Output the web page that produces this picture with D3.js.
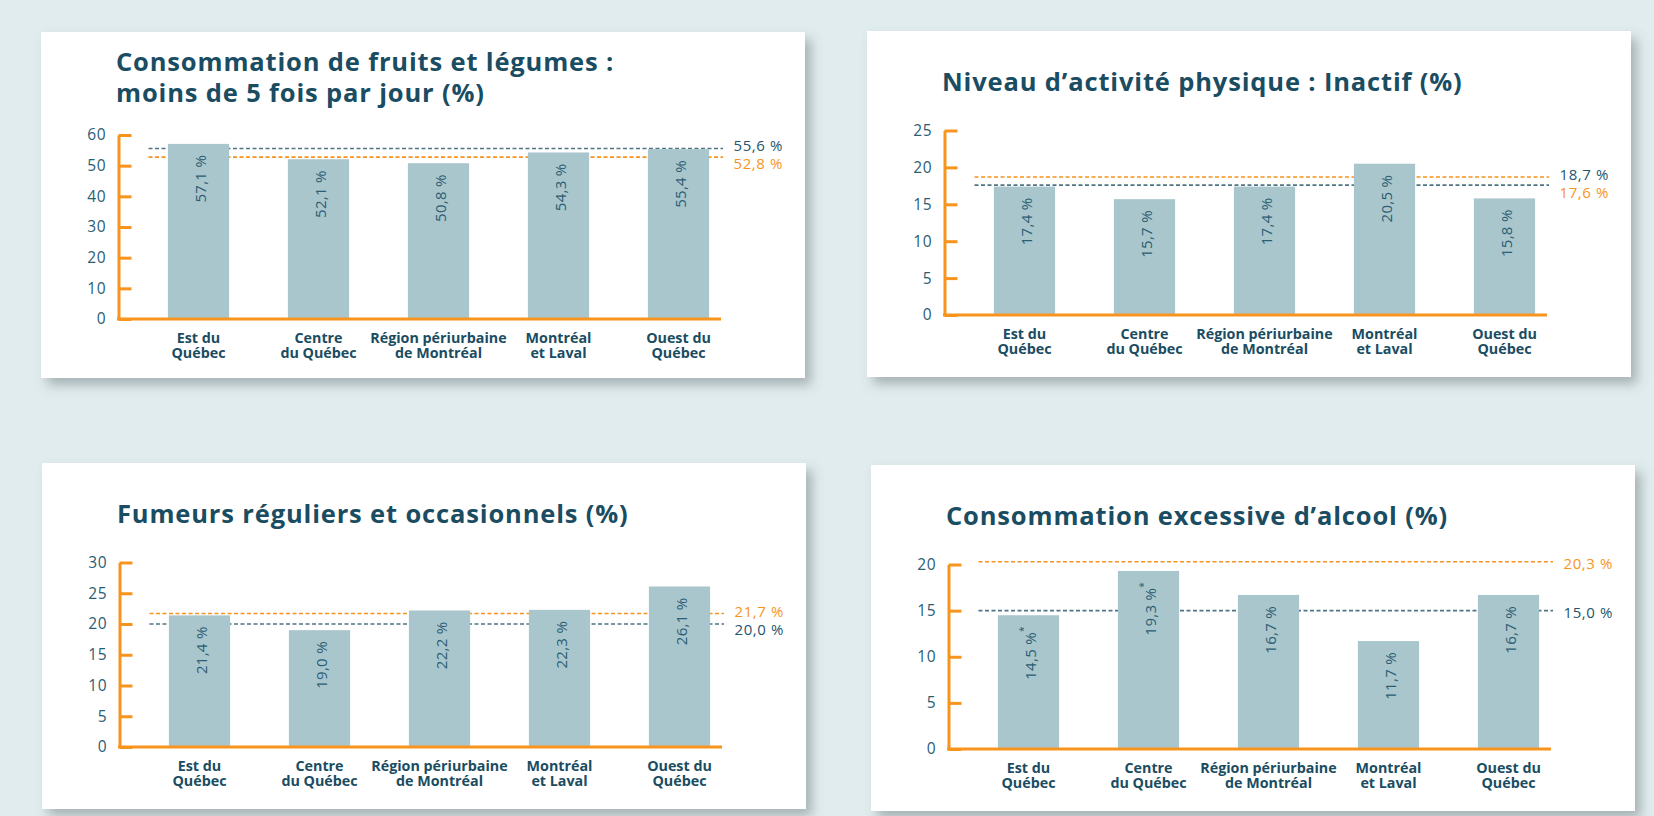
<!DOCTYPE html>
<html>
<head>
<meta charset="utf-8">
<script src="https://cdn.jsdelivr.net/npm/d3@7"></script>
<style>
  html, body { margin: 0; padding: 0; background: #e1ecee; }
  svg { display: block; }
</style>
</head>
<body>
<svg id="chart" width="1654" height="816"></svg>
<script>
// ---------- DATA ----------
const categories = [
  ["Est du", "Québec"],
  ["Centre", "du Québec"],
  ["Région périurbaine", "de Montréal"],
  ["Montréal", "et Laval"],
  ["Ouest du", "Québec"]
];

const fruitsTitle = ["Consommation de fruits et légumes :", "moins de 5 fois par jour (%)"];
const fruitsValues = [57.1, 52.1, 50.8, 54.3, 55.4];
const fruitsTicks = [0, 10, 20, 30, 40, 50, 60];
const fruitsRefs = [55.6, 52.8];

const activiteTitle = ["Niveau d’activité physique : Inactif (%)"];
const activiteValues = [17.4, 15.7, 17.4, 20.5, 15.8];
const activiteTicks = [0, 5, 10, 15, 20, 25];
const activiteRefs = [18.7, 17.6];

const fumeursTitle = ["Fumeurs réguliers et occasionnels (%)"];
const fumeursValues = [21.4, 19.0, 22.2, 22.3, 26.1];
const fumeursTicks = [0, 5, 10, 15, 20, 25, 30];
const fumeursRefs = [21.7, 20.0];

const alcoolTitle = ["Consommation excessive d’alcool (%)"];
const alcoolValues = [14.5, 19.3, 16.7, 11.7, 16.7];
const alcoolStars = [true, true, false, false, false];
const alcoolTicks = [0, 5, 10, 15, 20];
const alcoolRefs = [20.3, 15.0];

// ---------- STYLE / LAYOUT ----------
const C = {
  orange: "#f7941d",
  dark: "#24556b",
  darkLine: "#4f7484",
  bar: "#aac6cd",
  title: "#1a4c62",
  text: "#2b5d73"
};
const FONT_BOLD = "'Open Sans', sans-serif";
const FONT_LIGHT = "'Open Sans', sans-serif";

const panels = [
  { x: 41,  y: 32,  title: fruitsTitle,   values: fruitsValues,   ticks: fruitsTicks,   refs: fruitsRefs,
    refLine: [C.darkLine, C.orange], refText: [C.dark, C.orange], top: 103, bottom: 287, titleY: [39, 70], stars: null },
  { x: 867, y: 31,  title: activiteTitle, values: activiteValues, ticks: activiteTicks, refs: activiteRefs,
    refLine: [C.orange, C.darkLine], refText: [C.dark, C.orange], top: 99.5, bottom: 284, titleY: [60], stars: null },
  { x: 42,  y: 463, title: fumeursTitle,  values: fumeursValues,  ticks: fumeursTicks,  refs: fumeursRefs,
    refLine: [C.orange, C.darkLine], refText: [C.orange, C.dark], top: 99.5, bottom: 284, titleY: [59.5], stars: null },
  { x: 871, y: 465, title: alcoolTitle,   values: alcoolValues,   ticks: alcoolTicks,   refs: alcoolRefs,
    refLine: [C.orange, C.darkLine], refText: [C.orange, C.dark], top: 99.5, bottom: 284, titleY: [59.5], stars: alcoolStars }
];

const CARD_W = 764, CARD_H = 346;
const AXIS_X = 77.5, AXIS_END = 680;

const svg = d3.select("#chart");
const defs = svg.append("defs");
const f = defs.append("filter").attr("id", "shadow")
  .attr("x", "-5%").attr("y", "-5%").attr("width", "115%").attr("height", "120%");
f.append("feDropShadow").attr("dx", 6).attr("dy", 7).attr("stdDeviation", 6)
  .attr("flood-color", "#5f6b70").attr("flood-opacity", 0.45);

const fmt = v => v.toFixed(1).replace(".", ",");

panels.forEach(p => {
  const g = svg.append("g").attr("transform", `translate(${p.x},${p.y})`);
  g.append("rect").attr("width", CARD_W).attr("height", CARD_H)
    .attr("fill", "#fff").attr("filter", "url(#shadow)");

  // Title
  g.append("g").selectAll("text").data(p.title).join("text")
    .attr("x", 75).attr("y", (d, i) => p.titleY[i])
    .attr("font-family", FONT_BOLD).attr("font-weight", 700)
    .attr("font-size", 25.5).attr("letter-spacing", 0.85).attr("fill", C.title)
    .text(d => d);

  const maxV = p.ticks[p.ticks.length - 1];
  const y = d3.scaleLinear().domain([0, maxV]).range([p.bottom, p.top]);
  const x = d3.scaleBand().domain(d3.range(categories.length))
    .range([AXIS_X + 20, AXIS_X + 620]).paddingInner(0.49).paddingOuter(0.245);

  // Reference lines (behind bars)
  g.append("g").selectAll("line").data(p.refs).join("line")
    .attr("x1", AXIS_X + 30).attr("x2", AXIS_END + 2)
    .attr("y1", d => y(d)).attr("y2", d => y(d))
    .attr("stroke", (d, i) => p.refLine[i]).attr("stroke-width", 1.6)
    .attr("stroke-dasharray", "4,2.5");

  // Bars
  g.append("g").selectAll("rect").data(p.values).join("rect")
    .attr("x", (d, i) => x(i)).attr("width", x.bandwidth())
    .attr("y", d => y(d)).attr("height", d => y(0) - y(d))
    .attr("fill", C.bar);

  // Reference labels (spread apart when close)
  const ly = p.refs.map(d => y(d));
  const minSep = 18;
  if (Math.abs(ly[0] - ly[1]) < minSep) {
    const mid = (ly[0] + ly[1]) / 2;
    const s = ly[0] <= ly[1] ? -1 : 1;
    ly[0] = mid + s * minSep / 2;
    ly[1] = mid - s * minSep / 2;
  }
  g.append("g").selectAll("text").data(p.refs).join("text")
    .attr("x", 742).attr("y", (d, i) => ly[i] + 1.5)
    .attr("text-anchor", "end").attr("dominant-baseline", "central")
    .attr("font-family", FONT_LIGHT).attr("font-size", 15).attr("letter-spacing", 0.6)
    .attr("fill", (d, i) => p.refText[i])
    .text(d => fmt(d) + " %");

  // Bar value labels
  const bl = g.append("g").selectAll("text").data(p.values).join("text")
    .attr("transform", (d, i) => `translate(${x(i) + x.bandwidth() / 2 + 1.5},${y(d) + 11}) rotate(-90)`)
    .attr("text-anchor", "end").attr("dominant-baseline", "central")
    .attr("font-family", FONT_LIGHT).attr("font-size", 15)
    .attr("letter-spacing", 0.3)
    .attr("fill", C.text);
  bl.append("tspan").text(d => fmt(d) + " %");
  bl.filter((d, i) => p.stars && p.stars[i]).append("tspan")
    .attr("font-size", 10).attr("baseline-shift", "super").text("*");

  // Y axis (ticks point inward)
  const yAxis = d3.axisLeft(y).tickValues(p.ticks).tickSizeInner(-13).tickSizeOuter(0)
    .tickPadding(12).tickFormat(d3.format("d"));
  const ya = g.append("g").attr("transform", `translate(${AXIS_X},0)`).call(yAxis);
  ya.select(".domain").attr("stroke", C.orange).attr("stroke-width", 3);
  ya.selectAll(".tick line").attr("stroke", C.orange).attr("stroke-width", 3);
  ya.selectAll(".tick text").attr("font-family", FONT_LIGHT).attr("font-size", 15.5)
    .attr("letter-spacing", 0.8).attr("fill", C.text).attr("x", -12);

  // X axis line
  g.append("line").attr("x1", AXIS_X - 1.5).attr("x2", AXIS_END)
    .attr("y1", y(0)).attr("y2", y(0))
    .attr("stroke", C.orange).attr("stroke-width", 3);

  // Category labels
  const cl = g.append("g").selectAll("text").data(categories).join("text")
    .attr("text-anchor", "middle")
    .attr("font-family", FONT_BOLD).attr("font-weight", 700)
    .attr("font-size", 14.3).attr("fill", C.title);
  cl.selectAll("tspan").data((d, i) => d.map(t => ({ t, i }))).join("tspan")
    .attr("x", d => x(d.i) + x.bandwidth() / 2)
    .attr("y", (d, j) => y(0) + 23.5 + j * 15.8)
    .text(d => d.t);
});
</script>
</body>
</html>
